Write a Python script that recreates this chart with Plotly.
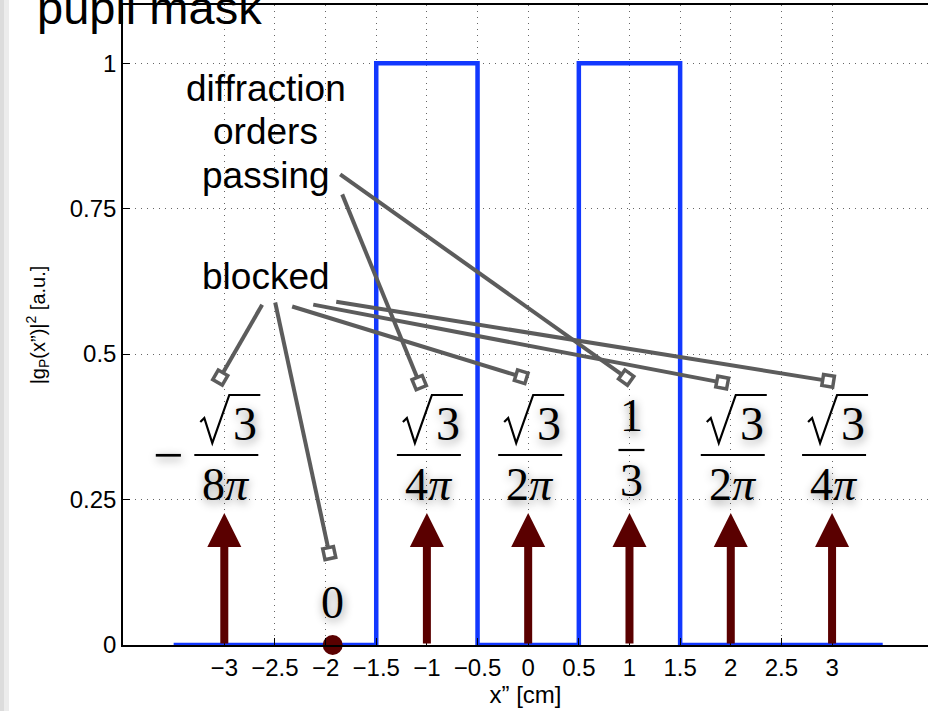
import plotly.graph_objects as go

# ---------------- data ----------------
mask_x = [-3.5, -1.5, -1.5, -0.5, -0.5, 0.5, 0.5, 1.5, 1.5, 3.5]
mask_y = [0, 0, 1, 1, 0, 0, 1, 1, 0, 0]

order_x = [-3, -1, 0, 1, 2, 3]
order_h = [0.227, 0.227, 0.227, 0.227, 0.227, 0.227]

zero_order_x = [-1.93]
zero_order_y = [0]

label_sign = ["−", "", "", "", "", ""]
label_root = [True, True, True, False, True, True]
label_num = ["3", "3", "3", "1", "3", "3"]
label_den = ["8<i>π</i>", "4<i>π</i>", "2<i>π</i>", "3", "2<i>π</i>", "4<i>π</i>"]
zero_label = "0"

xtick_vals = [-3, -2.5, -2, -1.5, -1, -0.5, 0, 0.5, 1, 1.5, 2, 2.5, 3]
ytick_vals = [0, 0.25, 0.5, 0.75, 1]

passing_lines = ["diffraction", "orders", "passing"]
blocked_text = "blocked"

# ---------------- layout constants ----------------
W, H = 928, 711
ML, MR, MT, MB = 123, 0, 5, 66
XR = [-4, 3.947]
YR = [0, 1.1]
PW = W - ML - MR
PH = H - MT - MB
PX_X = PW / (XR[1] - XR[0])
PX_Y = PH / (YR[1] - YR[0])

BLUE = "#1238ff"
MAROON = "#5a0000"
GRAY = "#5c5c5c"
SANS = "Liberation Sans, Arial, sans-serif"
SERIF = "Liberation Serif, Times New Roman, serif"
SHADOW = "1px 3px 10px rgba(0,0,0,0.45)"


def py(p):
    """pixel row -> y data value"""
    return YR[0] + (H - MB - p) / PX_Y


# callouts: (start x, start y, square x, square y)
passing_callouts = [(-1.856, 0.809, 0.967, 0.4596), (-1.836, 0.7745, -1.076, 0.451)]
blocked_callouts = [(-2.626, 0.585, -3.04, 0.4596), (-2.4975, 0.5886, -1.964, 0.158),
                    (-2.33, 0.5818, -0.069, 0.461), (-2.122, 0.585, 1.915, 0.451),
                    (-1.895, 0.590, 2.961, 0.454)]

NUM_PX, BAR_PX, DEN_PX = 423, 455, 484
BAR_HALF_PX = 32
BAR_HALF_SMALL_PX = 13
# radical outline, pixel offsets from (label centre, numerator row)
RADICAL = [(-26, -1), (-22, -5), (-14, 20), (3, -28), (34, -28)]

fig = go.Figure()

# pupil mask
fig.add_trace(go.Scatter(x=mask_x, y=mask_y, mode="lines",
                         line=dict(color=BLUE, width=4.5), hoverinfo="skip"))

# callout lines
for (sx, sy, ex, ey) in passing_callouts + blocked_callouts:
    fig.add_trace(go.Scatter(
        x=[sx, ex], y=[sy, ey], mode="lines+markers",
        line=dict(color=GRAY, width=4),
        marker=dict(symbol="square", size=[0, 11], color="white", opacity=1,
                    line=dict(color=GRAY, width=3.5), angleref="previous"),
        hoverinfo="skip"))

# zero order dot
fig.add_trace(go.Scatter(x=zero_order_x, y=zero_order_y, mode="markers",
                         marker=dict(color=MAROON, size=20), cliponaxis=False,
                         hoverinfo="skip"))

ann = []
shapes = []

# order arrows
for xo, h in zip(order_x, order_h):
    ann.append(dict(x=xo, y=h, ax=xo, ay=0, xref="x", yref="y", axref="x", ayref="y",
                    text="", showarrow=True, arrowhead=2, arrowsize=0.85,
                    arrowwidth=8, arrowcolor=MAROON, standoff=0))

# fraction labels
fs = 46
for xo, sg, root, num, den in zip(order_x, label_sign, label_root, label_num, label_den):
    xc = xo + 2 / PX_X
    if root:
        ann.append(dict(x=xc + 19 / PX_X, y=py(NUM_PX), xref="x", yref="y", text=num,
                        showarrow=False,
                        font=dict(family=SERIF, size=48, color="black", shadow=SHADOW),
                        xanchor="center", yanchor="middle"))
        path = "M " + " L ".join(
            f"{xc + dx / PX_X:.5f},{py(NUM_PX + dy):.5f}" for dx, dy in RADICAL)
        shapes.append(dict(type="path", xref="x", yref="y", path=path,
                           line=dict(color="black", width=2.2)))
    else:
        ann.append(dict(x=xc, y=py(NUM_PX - 8), xref="x", yref="y", text=num,
                        showarrow=False,
                        font=dict(family=SERIF, size=fs, color="black", shadow=SHADOW),
                        xanchor="center", yanchor="middle"))
    ann.append(dict(x=xc, y=py(DEN_PX - (4 if not root else 0)), xref="x", yref="y", text=den,
                    showarrow=False,
                    font=dict(family=SERIF, size=fs, color="black", shadow=SHADOW),
                    xanchor="center", yanchor="middle"))
    half = (BAR_HALF_PX if root else BAR_HALF_SMALL_PX) / PX_X
    ybar = py(BAR_PX if root else BAR_PX - 5)
    shapes.append(dict(type="line", xref="x", yref="y", x0=xc - half, x1=xc + half,
                       y0=ybar, y1=ybar, line=dict(color="black", width=2.2)))
    if sg:
        ann.append(dict(x=xo - 0.56, y=py(BAR_PX), xref="x", yref="y", text=sg,
                        showarrow=False,
                        font=dict(family=SERIF, size=54, color="black", shadow=SHADOW),
                        xanchor="center", yanchor="middle"))

# zero label
ann.append(dict(x=zero_order_x[0], y=py(602), xref="x", yref="y", text=zero_label,
                showarrow=False, font=dict(family=SERIF, size=46, color="black", shadow=SHADOW),
                xanchor="center", yanchor="middle"))

# callout texts
for txt, row in zip(passing_lines, [88, 131, 175]):
    ann.append(dict(x=-2.59, y=py(row), xref="x", yref="y", text=txt, showarrow=False,
                    font=dict(family=SANS, size=37, color="black"),
                    xanchor="center", yanchor="middle"))
ann.append(dict(x=-2.59, y=py(276), xref="x", yref="y", text=blocked_text, showarrow=False,
                font=dict(family=SANS, size=37, color="black"),
                xanchor="center", yanchor="middle"))

# partially visible title
ann.append(dict(x=(35 - ML) / PW, y=1 - 3 / PH, xref="paper", yref="paper",
                text="pupil mask", showarrow=False,
                font=dict(family=SANS, size=47, color="black"),
                xanchor="left", yanchor="middle"))

# left edge shading
shapes.append(dict(type="rect", xref="paper", yref="paper", x0=-ML / PW, x1=(4 - ML) / PW,
                   y0=-MB / PH, y1=1 + MT / PH, fillcolor="#dcdcdc", line=dict(width=0),
                   layer="below"))
shapes.append(dict(type="rect", xref="paper", yref="paper", x0=(4 - ML) / PW, x1=(9 - ML) / PW,
                   y0=-MB / PH, y1=1 + MT / PH, fillcolor="#ececec", line=dict(width=0),
                   layer="below"))

GRID = dict(showgrid=True, gridcolor="#666", griddash="1px,5px", gridwidth=1)

fig.update_layout(
    width=W, height=H,
    margin=dict(l=ML, r=MR, t=MT, b=MB),
    paper_bgcolor="white", plot_bgcolor="white",
    showlegend=False,
    annotations=ann, shapes=shapes,
    font=dict(family=SANS, color="black"),
    xaxis=dict(range=XR, tickvals=xtick_vals, ticks="inside", ticklen=7, tickcolor="black",
               showline=True, linecolor="black", linewidth=2, mirror=True,
               zeroline=False, tickfont=dict(size=24, family=SANS),
               title=dict(text="x” [cm]", font=dict(size=24, family=SANS), standoff=2),
               **GRID),
    yaxis=dict(range=YR, tickvals=ytick_vals, ticks="inside", ticklen=7, tickcolor="black",
               showline=True, linecolor="black", linewidth=1.5,
               zeroline=False, tickfont=dict(size=24, family=SANS),
               title=dict(text="|g<sub>P</sub>(x”)|<sup>2</sup> [a.u.]",
                          font=dict(size=20, family=SANS), standoff=19),
               **GRID),
)

fig.write_html("out.html")
